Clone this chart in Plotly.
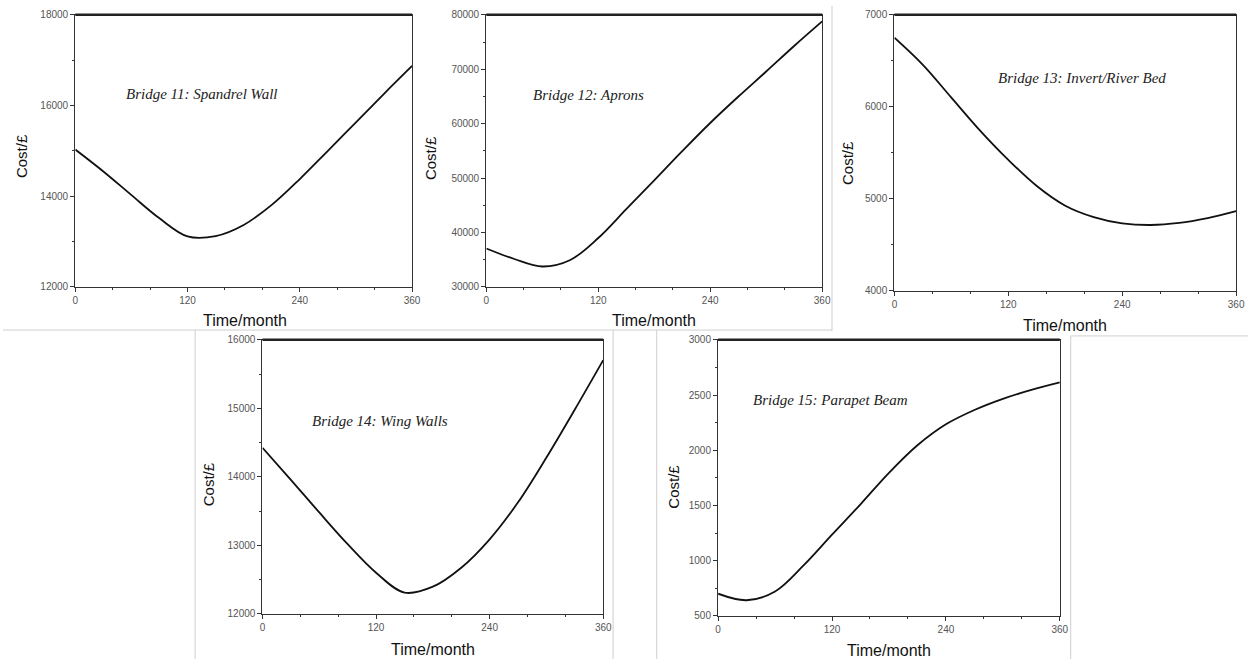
import plotly.graph_objects as go

W, H = 1257, 665

months = [0, 30, 60, 90, 120, 150, 180, 210, 240, 270, 300, 330, 360]

cost_b11 = [15029, 14545, 14024, 13511, 13113, 13120, 13366, 13807, 14378, 15000, 15629, 16258, 16872]
cost_b12 = [37048, 35120, 33735, 34940, 38976, 44277, 49578, 54940, 60120, 64940, 69578, 74277, 78795]
cost_b13 = [6751, 6456, 6100, 5744, 5423, 5139, 4925, 4801, 4733, 4715, 4737, 4790, 4865]
cost_b14 = [14425, 13957, 13480, 13017, 12600, 12310, 12396, 12673, 13088, 13628, 14282, 14983, 15704]
cost_b15 = [700, 641, 720, 956, 1235, 1510, 1795, 2045, 2235, 2365, 2466, 2546, 2614]

labels = ["Bridge 11: Spandrel Wall", "Bridge 12: Aprons", "Bridge 13: Invert/River Bed",
          "Bridge 14: Wing Walls", "Bridge 15: Parapet Beam"]
series = [cost_b11, cost_b12, cost_b13, cost_b14, cost_b15]
y_ranges = [(12000, 18000), (30000, 80000), (4000, 7000), (12000, 16000), (500, 3000)]
y_dticks = [(2000, 1000), (10000, 5000), (1000, 500), (1000, 500), (500, 250)]
x_ticks = [0, 120, 240, 360]

# panel pixel boxes: left, right, top, bottom
boxes = [(73, 413, 9, 286), (488, 827, 9, 286), (900, 1245, 9, 290),
         (262, 606, 340, 619), (722, 1067, 340, 621)]
# label centres, y-title centres, x-title centres (pixels)
label_pos = [(201, 90), (591, 91), (1089, 73), (381, 423), (835, 401)]
ytitle_pos = [(18, 153), (431, 155), (852, 160), (207, 487), (677, 490)]
xtitle_pos = [(244, 320), (657, 320), (1072, 325), (434, 655), (895, 656)]


def px(x):
    return x / W


def py(y):
    return 1 - y / H


fig = go.Figure()
layout = {}
annotations = []
shapes = []
for i in range(5):
    n = i + 1
    xa = "x" if n == 1 else f"x{n}"
    ya = "y" if n == 1 else f"y{n}"
    fig.add_trace(go.Scatter(x=months, y=series[i], mode="lines",
                             line=dict(color="#111111", width=1.8, shape="spline", smoothing=1.0),
                             xaxis=xa, yaxis=ya, showlegend=False, hoverinfo="x+y"))
    l, r, t, b = boxes[i]
    common = dict(showline=True, linecolor="#333333", linewidth=1.3, mirror=True,
                  showgrid=False, zeroline=False, ticks="outside", ticklen=4,
                  tickwidth=1, tickcolor="#333333", tickformat="d",
                  tickfont=dict(family="Liberation Sans, Arial", size=10, color="#555555"))
    layout[f"xaxis{n}"] = dict(domain=[px(l), px(r)], anchor=ya, range=[0, 360],
                               tickvals=x_ticks,
                               minor=dict(dtick=40, tick0=0, ticks="outside", ticklen=2,
                                          tickcolor="#333333"),
                               **common)
    lo, hi = y_ranges[i]
    dmaj, dmin = y_dticks[i]
    layout[f"yaxis{n}"] = dict(domain=[py(b), py(t)], anchor=xa, range=[lo, hi],
                               tick0=lo, dtick=dmaj,
                               minor=dict(dtick=dmin, tick0=lo, ticks="outside", ticklen=2,
                                          tickcolor="#333333"),
                               **common)
    shapes.append(dict(type="line", xref=f"{xa} domain", yref=f"{ya} domain",
                       x0=0, x1=1, y0=1, y1=1, line=dict(color="#222222", width=2.5)))
    lx, ly = label_pos[i]
    annotations.append(dict(text=f"<i>{labels[i]}</i>", x=px(lx), y=py(ly), xref="paper",
                            yref="paper", showarrow=False, xanchor="center", yanchor="middle",
                            font=dict(family="Liberation Serif, Times New Roman", size=15,
                                      color="#222222")))
    tx, ty = ytitle_pos[i]
    annotations.append(dict(text="Cost/£", x=px(tx), y=py(ty), xref="paper", yref="paper",
                            showarrow=False, textangle=-90, xanchor="center", yanchor="middle",
                            font=dict(family="Liberation Sans, Arial", size=15, color="#111111")))
    tx, ty = xtitle_pos[i]
    annotations.append(dict(text="Time/month", x=px(tx), y=py(ty), xref="paper", yref="paper",
                            showarrow=False, xanchor="center", yanchor="middle",
                            font=dict(family="Liberation Sans, Arial", size=16, color="#111111")))

# light-grey borders of the collage
border = dict(color="#cfcfcf", width=1)
borders = [
    (0, 330, 837, 330), (837, 0, 837, 331), (194, 330, 194, 665), (616, 330, 616, 665),
    (660, 330, 660, 665), (1078, 336, 1078, 665), (1078, 336, 1257, 336),
]
for x0, y0, x1, y1 in borders:
    shapes.append(dict(type="line", xref="paper", yref="paper", x0=px(x0), x1=px(x1),
                       y0=py(y0), y1=py(y1), line=border, layer="below"))

fig.update_layout(width=W, height=H, margin=dict(l=0, r=0, t=0, b=0),
                  paper_bgcolor="white", plot_bgcolor="white",
                  annotations=annotations, shapes=shapes, **layout)

fig.write_html("out.html", config={"displayModeBar": False},
               post_script="document.body.style.margin='0';document.body.style.overflow='hidden';")
